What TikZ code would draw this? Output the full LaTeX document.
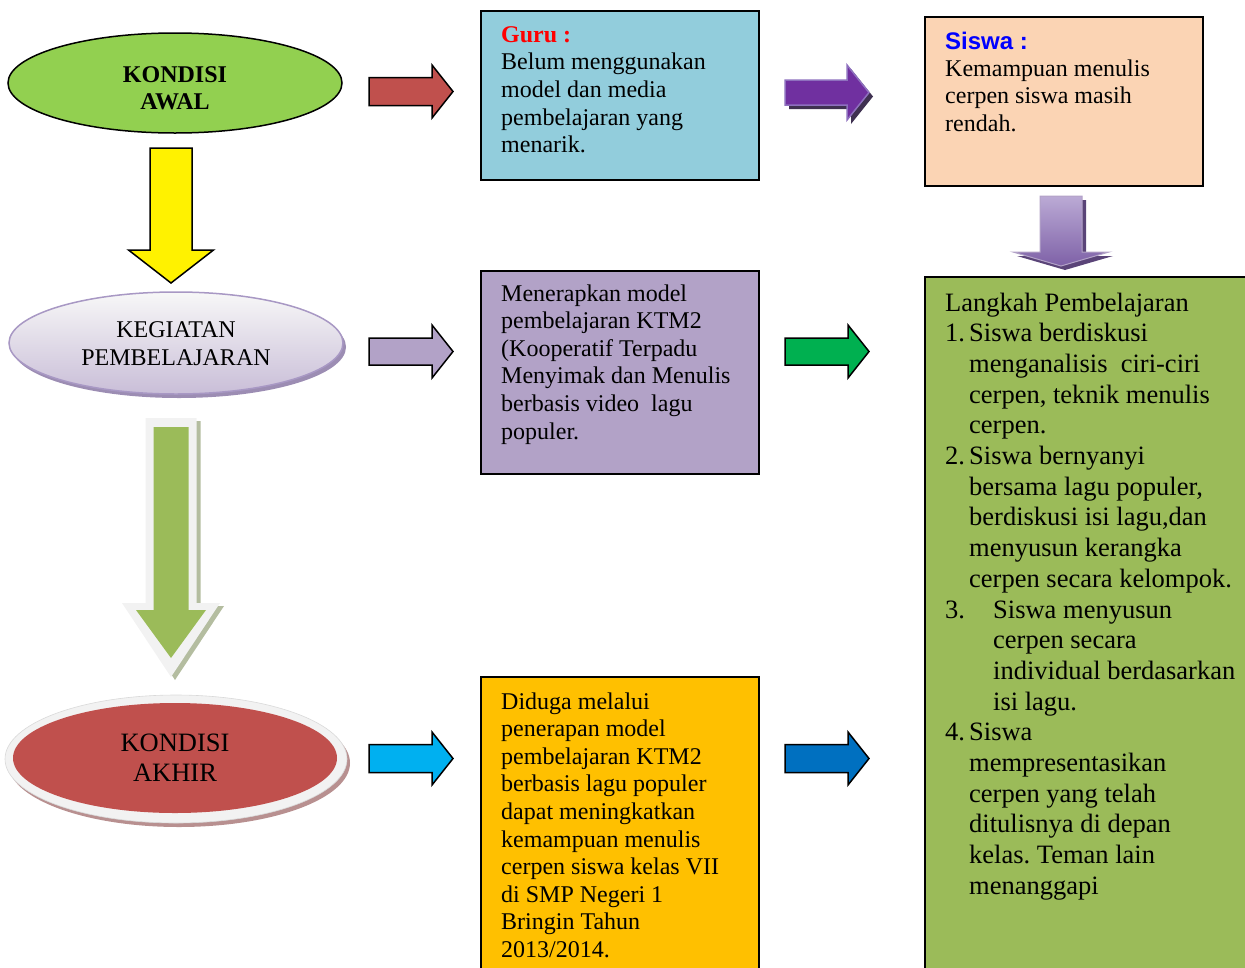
\documentclass[tikz,border=0pt]{standalone}
\usepackage{fontspec}
\setmainfont{Liberation Serif}
\newfontfamily\arialfont{Liberation Sans}
\usetikzlibrary{shapes.geometric}
\frenchspacing
\definecolor{cgreenell}{HTML}{92D050}
\definecolor{cred}{HTML}{C0504D}
\definecolor{cguru}{HTML}{92CDDC}
\definecolor{cpurple}{HTML}{7030A0}
\definecolor{cpurpleedge}{HTML}{8E70BE}
\definecolor{cpurpleshadow}{HTML}{3F3151}
\definecolor{csiswa}{HTML}{FBD4B4}
\definecolor{cgreenbox}{HTML}{9BBB59}
\definecolor{clav}{HTML}{B2A2C7}
\definecolor{cgreenarrow}{HTML}{00B050}
\definecolor{cyellowbox}{HTML}{FFC000}
\definecolor{clightblue}{HTML}{00B0F0}
\definecolor{cdarkblue}{HTML}{0070C0}
\definecolor{cring}{HTML}{F2F2F2}
\definecolor{cgreenshadow}{HTML}{B4BDA0}
\definecolor{credshadow}{HTML}{B89090}
\definecolor{clavshadow}{HTML}{9C8DB3}
\definecolor{clavedge}{HTML}{A898C4}
\definecolor{cpdtop}{HTML}{BBAAD5}
\definecolor{cpdbot}{HTML}{7E61A7}
\definecolor{cpdshadow}{HTML}{5A4478}
\definecolor{cbluetext}{HTML}{0000FF}
% right block arrow: x0, yc, body half, head half, head x, tip x, style
\newcommand{\rblock}[7]{\path[#7] (#1,#2-#3) -- (#5,#2-#3) -- (#5,#2-#4) -- (#6,#2) -- (#5,#2+#4) -- (#5,#2+#3) -- (#1,#2+#3) -- cycle;}
% down block arrow: xc, y0, body half, head half, head y, tip y, style
\newcommand{\dblock}[7]{\path[#7] (#1-#3,#2) -- (#1+#3,#2) -- (#1+#3,#5) -- (#1+#4,#5) -- (#1,#6) -- (#1-#4,#5) -- (#1-#3,#5) -- cycle;}
\tikzset{
  boxnode/.style={rectangle, draw=black, line width=1.5pt, inner sep=0pt, anchor=north west},
  txt/.style={anchor=base west, inner sep=0pt},
  ctxt/.style={anchor=base, inner sep=0pt},
  blockarrow/.style={draw=black, line width=1.5pt, line join=miter},
}
\begin{document}
\begin{tikzpicture}[x=1pt,y=-1pt]
\useasboundingbox (0,0) rectangle (1245,967);
\clip (0,0) rectangle (1245,967);
% ---------- boxes ----------
\node[boxnode, fill=cguru, minimum width=278, minimum height=169] (guru) at (480,10) {};
\node[boxnode, fill=csiswa, minimum width=278, minimum height=169] (siswa) at (924,16) {};
\node[boxnode, fill=clav, minimum width=278, minimum height=203] (terap) at (480,270) {};
\node[boxnode, fill=cyellowbox, minimum width=278, minimum height=320] (duga) at (480,676) {};
\node[boxnode, fill=cgreenbox, minimum width=340, minimum height=720] (langkah) at (924,276) {};
% ---------- box texts ----------
\node[txt] (gurutext) at (501,42) {\parbox[t]{250pt}{\fontsize{24}{27.7}\selectfont\raggedright
\leavevmode{\bfseries\color{red}Guru :}\\Belum menggunakan\\model dan media\\pembelajaran yang\\menarik.}};
\node[txt] (siswatext) at (945,49) {\parbox[t]{250pt}{\fontsize{24}{27.4}\selectfont\raggedright
\leavevmode{\arialfont\bfseries\color{cbluetext}Siswa :}\\Kemampuan menulis\\cerpen siswa masih\\rendah.}};
\node[txt] (teraptext) at (501,301) {\parbox[t]{250pt}{\fontsize{24}{27.6}\selectfont\raggedright
Menerapkan model\\pembelajaran KTM2\\(Kooperatif Terpadu\\Menyimak dan Menulis\\berbasis video~ lagu\\populer.}};
\node[txt] (dugatext) at (501,709) {\parbox[t]{250pt}{\fontsize{24}{27.6}\selectfont\raggedright
Diduga melalui\\penerapan model\\pembelajaran KTM2\\berbasis lagu populer\\dapat meningkatkan\\kemampuan menulis\\cerpen siswa kelas VII\\di SMP Negeri 1\\Bringin Tahun\\2013/2014.}};
\node[txt] (langkahtext) at (945,311) {\parbox[t]{300pt}{\fontsize{26.5}{30.7}\selectfont\raggedright
Langkah Pembelajaran\\
\makebox[24pt][l]{1.}Siswa berdiskusi\\
\hspace*{24pt}menganalisis~ ciri-ciri\\
\hspace*{24pt}cerpen, teknik menulis\\
\hspace*{24pt}cerpen.\\
\makebox[24pt][l]{2.}Siswa bernyanyi\\
\hspace*{24pt}bersama lagu populer,\\
\hspace*{24pt}berdiskusi isi lagu,dan\\
\hspace*{24pt}menyusun kerangka\\
\hspace*{24pt}cerpen secara kelompok.\\
\makebox[48pt][l]{3.}Siswa menyusun\\
\hspace*{48pt}cerpen secara\\
\hspace*{48pt}individual berdasarkan\\
\hspace*{48pt}isi lagu.\\
\makebox[24pt][l]{4.}Siswa\\
\hspace*{24pt}mempresentasikan\\
\hspace*{24pt}cerpen yang telah\\
\hspace*{24pt}ditulisnya di depan\\
\hspace*{24pt}kelas. Teman lain\\
\hspace*{24pt}menanggapi}};
% ---------- ellipses ----------
\node[ellipse, draw=black, line width=1.5pt, fill=cgreenell, minimum width=334, minimum height=100, inner sep=0] (awal) at (175,83) {};
\node[ctxt] (awaltext) at (175,82) {\parbox[t]{300pt}{\centering\fontsize{24}{27}\selectfont\bfseries KONDISI\\AWAL}};
% kegiatan
\fill[clavshadow] (179,347) ellipse [x radius=167, y radius=51];
\node[ellipse, draw=clavedge, line width=1.5pt, top color=cring!60!white, bottom color=clav!70!white, minimum width=334, minimum height=102, inner sep=0] (kegiatan) at (176,343) {};
\node[ctxt] (kegiatantext) at (176,337.5) {\parbox[t]{300pt}{\centering\fontsize{24}{28}\selectfont KEGIATAN\\PEMBELAJARAN}};
% akhir
\fill[credshadow] (179,763) ellipse [x radius=171, y radius=64];
\node[ellipse, draw=black!15, line width=0.6pt, fill=cring, minimum width=342, minimum height=128, inner sep=0] (akhirring) at (176,759) {};
\node[ellipse, fill=cred, minimum width=324, minimum height=110, inner sep=0] (akhir) at (175,758) {};
\node[ctxt] (akhirtext) at (175,751.5) {\parbox[t]{300pt}{\centering\fontsize{26.5}{30}\selectfont KONDISI\\AKHIR}};
% ---------- right arrows, left column ----------
\rblock{369}{91.5}{14}{26.5}{432}{453}{blockarrow, fill=cred}
\rblock{369}{351.5}{13.5}{26.5}{432}{453}{blockarrow, fill=clav}
\rblock{369}{758.5}{14}{26.5}{432}{453}{blockarrow, fill=clightblue}
% ---------- right arrows, middle column ----------
\rblock{789}{96.5}{12.5}{27.5}{851}{873}{fill=cpurpleshadow}
\rblock{785}{92.5}{12.5}{27.5}{847}{869}{draw=cpurpleedge, line width=1.5pt, fill=cpurple}
\rblock{785}{351.5}{13.5}{26.5}{848}{869}{blockarrow, fill=cgreenarrow}
\rblock{785}{758.5}{14}{26.5}{848}{869}{blockarrow, fill=cdarkblue}
% ---------- down arrows ----------
\dblock{171}{148}{21}{42.5}{250}{283}{blockarrow, fill=yellow}
\dblock{1065}{200}{21}{48}{256}{270}{fill=cpdshadow}
\dblock{1061}{196}{21}{48}{252}{266}{draw=clav, line width=1pt, top color=cpdtop, bottom color=cpdbot}
\dblock{175}{421}{25.5}{49}{606}{680}{fill=cgreenshadow}
\dblock{171}{418}{25.5}{49}{603}{677}{fill=cring}
\dblock{171}{427}{17.5}{35}{610}{658}{fill=cgreenbox}
\end{tikzpicture}
\end{document}
